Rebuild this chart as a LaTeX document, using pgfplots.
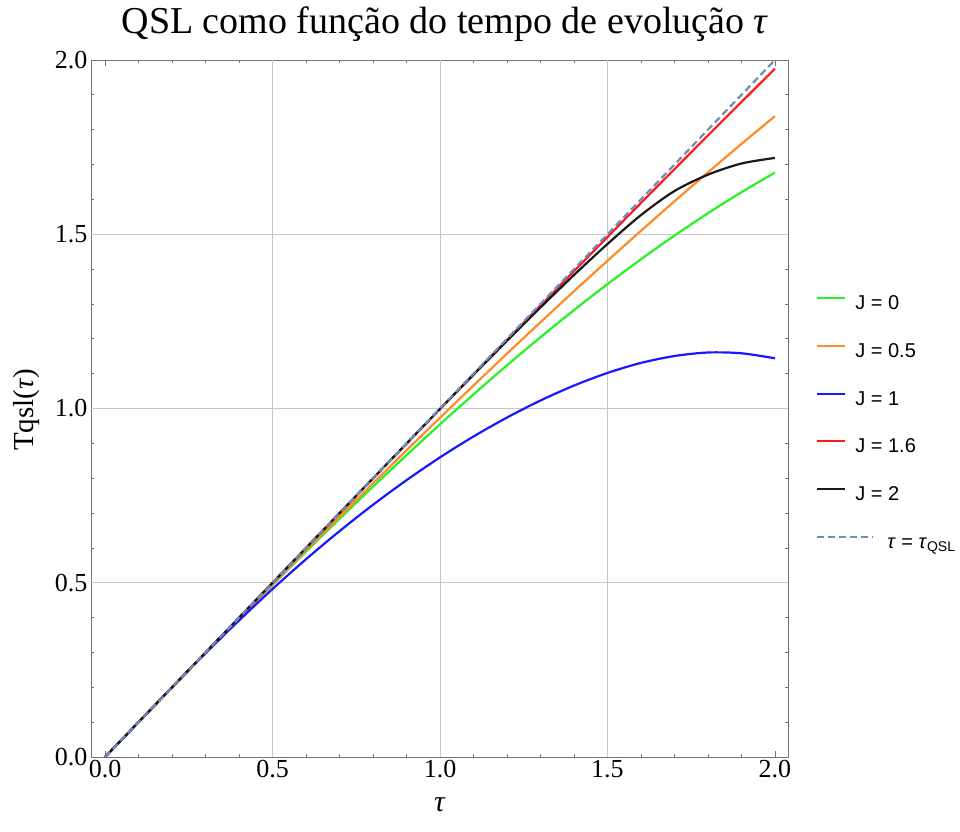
\documentclass[border=0pt]{standalone}
\usepackage{pgfplots}
\pgfplotsset{compat=1.18}
\usepackage{fontspec}
\setmainfont{Liberation Serif}
\newfontfamily\legendfont{Liberation Sans}
\definecolor{mgreen}{rgb}{0.15,0.95,0.15}
\definecolor{morange}{rgb}{1,0.55,0.15}
\definecolor{mblue}{rgb}{0.1,0.1,1}
\definecolor{mred}{rgb}{1,0.1,0.1}
\definecolor{mblack}{rgb}{0.1,0.1,0.1}
\definecolor{mdash}{rgb}{0.42,0.55,0.75}
\pgfplotsset{
  longdash legend/.style={legend image code/.code={\draw[##1, line width=2pt, overlay] (0pt,7pt) -- (56pt,7pt); \path[draw=none, fill=none] (0pt,0pt) -- (28pt,0pt);}},
}
\begin{document}
\begin{tikzpicture}
\begin{axis}[
  scale only axis, width=697pt, height=697pt,
  xmin=-0.042, xmax=2.039, ymin=0, ymax=2,
  xtick={0,0.5,1,1.5,2}, ytick={0,0.5,1,1.5,2},
  minor x tick num=4, minor y tick num=4,
  tick align=inside, major tick length=6pt, minor tick length=3.5pt,
  every tick/.style={black!55, line width=0.7pt},
  axis line style={black!55, line width=0.8pt},
  extra x ticks={0.5,1,1.5}, extra y ticks={0.5,1,1.5},
  extra x tick labels={}, extra y tick labels={},
  extra tick style={grid=major, major grid style={black!22, line width=0.7pt}, major tick length=0pt},
  /pgf/number format/.cd, fixed, fixed zerofill, precision=1, assume math mode=true,
  /pgfplots/.cd,
  ticklabel style={font=\fontsize{26}{28}\selectfont},
  title={QSL como função do tempo de evolução \textit{τ}},
  title style={at={(axis description cs:0.508,1.0287)}, anchor=base, font=\fontsize{38}{40}\selectfont},
  xlabel={\textit{τ}},
  xlabel style={at={(axis description cs:0.5007,-0.0689)}, anchor=center, font=\fontsize{30}{32}\selectfont},
  ylabel={Tqsl(\textit{τ})},
  ylabel style={at={(axis description cs:-0.0918,0.498)}, anchor=center, font=\fontsize{29}{32}\selectfont},
  legend style={at={(axis description cs:1.036,0.665)}, anchor=north west, draw=none, fill=none,
    font=\legendfont\fontsize{20}{22}\selectfont, row sep=28.7pt, column sep=9pt,
    nodes={inner sep=0pt, text height=14pt, text depth=5pt}},
  legend cell align=left,
  legend image code/.code={\draw[#1, line width=2pt] (0pt,7pt) -- (28pt,7pt); \path[draw=none, fill=none] (0pt,0pt) -- (28pt,0pt);},
]
\addplot[mgreen, line width=2.2pt, smooth] coordinates {
(0,0) (0.1,0.1) (0.2,0.1995) (0.3,0.2985) (0.4,0.3966) (0.5,0.4936) (0.6,0.5893) (0.7,0.6834)
(0.8,0.7758) (0.9,0.8663) (1.0,0.9546) (1.1,1.0405) (1.2,1.1239) (1.3,1.2046) (1.4,1.2823)
(1.5,1.3569) (1.6,1.4282) (1.7,1.4961) (1.8,1.5603) (1.9,1.6206) (2.0,1.677)};
\addlegendentry{J = 0}
\addplot[morange, line width=2.2pt, smooth] coordinates {
(0,0) (0.1,0.1) (0.2,0.1996) (0.3,0.2988) (0.4,0.3975) (0.5,0.4956) (0.6,0.5930) (0.7,0.6895)
(0.8,0.7851) (0.9,0.8798) (1.0,0.9734) (1.1,1.0660) (1.2,1.1574) (1.3,1.2475) (1.4,1.3364)
(1.5,1.4239) (1.6,1.5099) (1.7,1.5945) (1.8,1.6775) (1.9,1.7591) (2.0,1.839)};
\addlegendentry{J = 0.5}
\addplot[mblue, line width=2.2pt, smooth] coordinates {
(0,0) (0.1,0.1005) (0.2,0.2002) (0.3,0.2977) (0.4,0.3918) (0.5,0.4820) (0.6,0.5676) (0.7,0.6481)
(0.8,0.7238) (0.9,0.7943) (1.0,0.8598) (1.1,0.9197) (1.2,0.9741) (1.3,1.0230) (1.4,1.0658)
(1.5,1.1021) (1.6,1.1308) (1.7,1.1506) (1.8,1.1607) (1.9,1.1585) (2.0,1.1440)};
\addlegendentry{J = 1}
\addplot[mred, line width=2.2pt, smooth] coordinates {
(0,0) (0.5,0.4999) (1.0,0.9984) (1.2,1.1968) (1.4,1.3940) (1.5,1.4921) (1.6,1.5898)
(1.7,1.6869) (1.8,1.7836) (1.9,1.8796) (2.0,1.975)};
\addlegendentry{J = 1.6}
\addplot[mblack, line width=2.2pt, smooth] coordinates {
(0,0) (0.5,0.5) (0.8,0.7998) (0.9,0.8995) (1.0,0.999) (1.1,1.097) (1.2,1.194) (1.3,1.290)
(1.4,1.383) (1.5,1.472) (1.6,1.555) (1.7,1.624) (1.8,1.671) (1.9,1.703) (2.0,1.719)};
\addlegendentry{J = 2}
\addplot[mdash, line width=2.2pt, dash pattern=on 7pt off 4pt, longdash legend]
  coordinates {(0,0) (2,2)};
\addlegendentry{\hspace{32pt}\textit{τ} = \textit{τ}\textsubscript{QSL}}
\end{axis}
\pgfresetboundingbox
\path[use as bounding box] (-91pt,-74pt) rectangle (869pt,757pt);
\end{tikzpicture}
\end{document}
